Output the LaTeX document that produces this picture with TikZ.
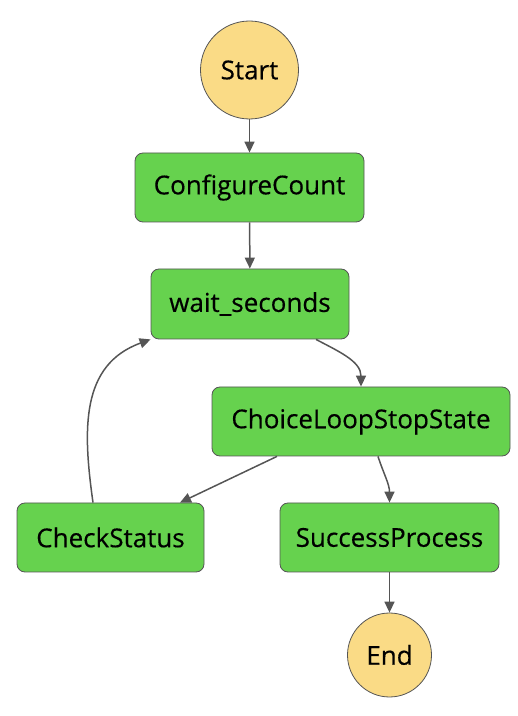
\documentclass[tikz,border=0pt]{standalone}
\usepackage{fontspec}
\setmainfont{Open Sans}
\newfontfamily\labelfont{Open Sans}[FakeBold=0.4]
\usetikzlibrary{arrows.meta}
\definecolor{stategreen}{HTML}{66D24E}
\definecolor{termyellow}{HTML}{FADB86}
\definecolor{edgegray}{HTML}{555555}
\tikzset{
    state/.style={draw=edgegray,fill=stategreen,rounded corners=8pt,line width=0.8pt,minimum height=69pt,inner sep=0pt,font=\labelfont\fontsize{26}{31}\selectfont},
    term/.style={draw=edgegray,fill=termyellow,circle,line width=0.8pt,inner sep=0pt,font=\labelfont\fontsize{26}{31}\selectfont},
    flow/.style={draw=edgegray,line width=1.5pt,-{Triangle[length=11pt,width=10pt]}}
}
\begin{document}
\begin{tikzpicture}[x=1pt,y=1pt]
                \useasboundingbox (0,0) rectangle (518,716);
                \node[term,minimum size=98pt] (start) at (249.5,646) {Start};
                \node[state,minimum width=229pt] (configure) at (249.5,528.5) {ConfigureCount};
                \node[state,minimum width=198pt,minimum height=70pt] (wait) at (250,412) {wait\_seconds};
                \node[state,minimum width=298pt] (choice) at (361,294.5) {ChoiceLoopStopState};
                \node[state,minimum width=187pt] (check) at (110.5,178.5) {CheckStatus};
                \node[state,minimum width=219pt] (success) at (389.5,178.5) {SuccessProcess};
                \node[term,minimum size=84pt] (end) at (389.5,61) {End};
                \draw[flow] (start) -- (configure);
                \draw[flow] (configure) -- (wait);
                \draw[flow] ([xshift=66pt]wait.south) to[out=-28,in=90] (choice.north);
                \draw[flow] ([xshift=-84pt]choice.south) -- ([xshift=69.5pt]check.north);
                \draw[flow] ([xshift=17pt]choice.south) to[out=-72,in=90] (success.north);
                \draw[flow] ([xshift=-17.5pt]check.north) to[out=98,in=200,looseness=1.1] (wait.south west);
                \draw[flow] (success) -- (end);
            \end{tikzpicture}
\end{document}
